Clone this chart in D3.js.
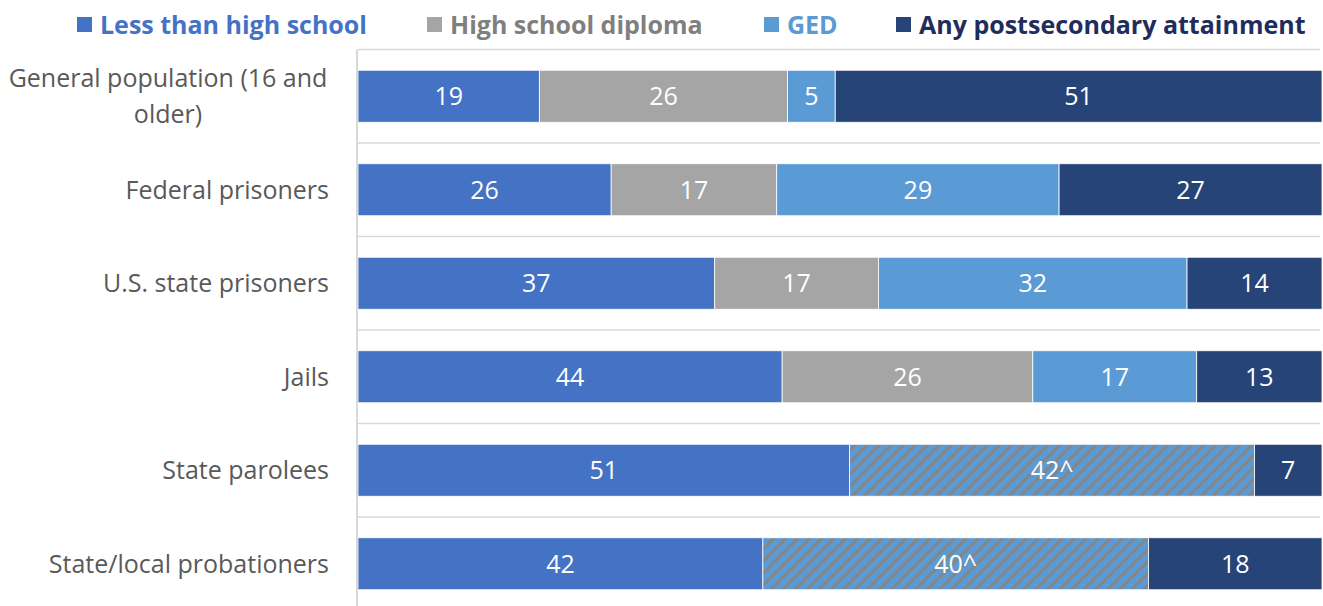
<!DOCTYPE html>
<html>
<head>
<meta charset="utf-8">
<script src="https://cdn.jsdelivr.net/npm/d3@7"></script>
<style>
  html, body { margin: 0; padding: 0; background: #ffffff; }
  svg { display: block; font-family: "Open Sans", "Noto Sans", sans-serif; }
</style>
</head>
<body>
<svg id="chart" width="1323" height="606"></svg>
<script>
// Educational attainment by population (percent)
const categories = [
  ["General population (16 and", "older)"],
  ["Federal prisoners"],
  ["U.S. state prisoners"],
  ["Jails"],
  ["State parolees"],
  ["State/local probationers"]
];
const categoryKeys = ["gen", "fed", "state", "jail", "parole", "prob"];

const seriesNames = ["Less than high school", "High school diploma", "GED", "High school diploma or GED", "Any postsecondary attainment"];
const lessThanHS    = [19, 26, 37, 44, 51, 42];
const hsDiploma     = [26, 17, 17, 26, 0, 0];
const ged           = [5, 29, 32, 17, 0, 0];
const hsOrGed       = [0, 0, 0, 0, 42, 40];
const postsecondary = [51, 27, 14, 13, 7, 18];
const labelSuffix   = ["", "", "", "^", ""];

const legendItems = ["Less than high school", "High school diploma", "GED", "Any postsecondary attainment"];

const colors = {
  "Less than high school": "#4472C4",
  "High school diploma": "#A5A5A5",
  "GED": "#5B9BD5",
  "High school diploma or GED": "url(#hatch)",
  "Any postsecondary attainment": "#264478"
};
const legendText = {
  "Less than high school": "#4472C4",
  "High school diploma": "#7F7F7F",
  "GED": "#5B9BD5",
  "Any postsecondary attainment": "#1F2D5C"
};

const svg = d3.select("#chart");
const W = 1323, H = 606;
const margin = { left: 358, right: 1, top: 49.5 };

// hatched fill for the combined diploma/GED segment
const defs = svg.append("defs");
const pat = defs.append("pattern")
  .attr("id", "hatch")
  .attr("patternUnits", "userSpaceOnUse")
  .attr("width", 8.5).attr("height", 8.5)
  .attr("patternTransform", "rotate(45)");
pat.append("rect").attr("width", 8.5).attr("height", 8.5).attr("fill", "#5B9BD5");
pat.append("rect").attr("width", 3).attr("height", 8.5).attr("fill", "#858585");

const rows = categoryKeys.map((k, i) => ({
  key: k,
  "Less than high school": lessThanHS[i],
  "High school diploma": hsDiploma[i],
  "GED": ged[i],
  "High school diploma or GED": hsOrGed[i],
  "Any postsecondary attainment": postsecondary[i]
}));

const stack = d3.stack().keys(seriesNames).offset(d3.stackOffsetExpand);
const stacked = stack(rows);

const x = d3.scaleLinear().domain([0, 1]).range([margin.left, W - margin.right]);
const y = d3.scaleBand()
  .domain(categoryKeys)
  .range([margin.top, margin.top + 93.5 * categoryKeys.length])
  .paddingInner(0.444)
  .paddingOuter(0.222);

// horizontal separators between categories
const step = y.step();
const sepYs = d3.range(categoryKeys.length + 1).map(i => margin.top + i * step);
svg.append("g").selectAll("line")
  .data(sepYs)
  .join("line")
  .attr("x1", x(0)).attr("x2", x(1) - 2)
  .attr("y1", d => d).attr("y2", d => d)
  .attr("stroke", "#D9D9D9").attr("stroke-width", 1.5);

// bars
const layers = svg.append("g").selectAll("g")
  .data(stacked)
  .join("g")
  .attr("fill", d => colors[d.key]);

layers.selectAll("rect")
  .data(d => d.filter(p => p[1] - p[0] > 0))
  .join("rect")
  .attr("x", p => x(p[0]))
  .attr("width", p => x(p[1]) - x(p[0]))
  .attr("y", p => y(p.data.key))
  .attr("height", y.bandwidth())
  .attr("stroke", "#ffffff")
  .attr("stroke-width", 0.8);

// value labels
stacked.forEach((layer, li) => {
  svg.append("g").selectAll("text")
    .data(layer.filter(p => p[1] - p[0] > 0))
    .join("text")
    .attr("x", p => (x(p[0]) + x(p[1])) / 2)
    .attr("y", p => y(p.data.key) + y.bandwidth() / 2)
    .attr("dy", "0.36em")
    .attr("text-anchor", "middle")
    .attr("fill", "#ffffff")
    .attr("font-size", 25)
    .text(p => p.data[layer.key] + labelSuffix[li]);
});

// vertical axis line
svg.append("line")
  .attr("x1", x(0) - 1).attr("x2", x(0) - 1)
  .attr("y1", margin.top).attr("y2", H)
  .attr("stroke", "#D9D9D9").attr("stroke-width", 2);

// category labels
const catG = svg.append("g");
categoryKeys.forEach((k, i) => {
  const lines = categories[i];
  const cy = y(k) + y.bandwidth() / 2;
  const lh = 36;
  lines.forEach((ln, j) => {
    const t = catG.append("text")
      .attr("y", cy + (j - (lines.length - 1) / 2) * lh)
      .attr("dy", "0.36em")
      .attr("fill", "#595959")
      .attr("font-size", 25)
      .text(ln);
    if (lines.length > 1) {
      // wrapped label: lines centred on each other, block ending at the right edge
      t.attr("x", 168).attr("text-anchor", "middle");
    } else {
      t.attr("x", 329).attr("text-anchor", "end");
    }
  });
});

// legend
const legendX = [77, 427, 764, 896];
const legend = svg.append("g");
legendItems.forEach((name, i) => {
  legend.append("rect")
    .attr("x", legendX[i]).attr("y", 17)
    .attr("width", 15).attr("height", 15)
    .attr("fill", colors[name]);
  legend.append("text")
    .attr("x", legendX[i] + 23).attr("y", 24.5)
    .attr("dy", "0.36em")
    .attr("font-size", 25)
    .attr("font-weight", "bold")
    .attr("fill", legendText[name])
    .text(name);
});
</script>
</body>
</html>
